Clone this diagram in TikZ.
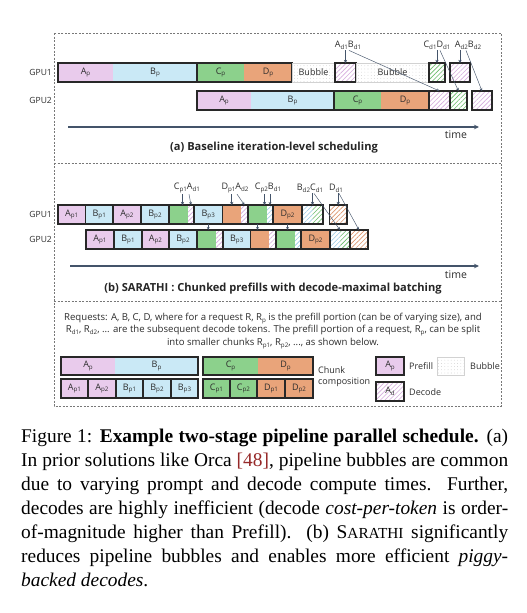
\documentclass[tikz,border=0pt]{standalone}
\usepackage{fontspec}
\setmainfont{Liberation Serif}
\setsansfont{Open Sans}
\usetikzlibrary{arrows.meta,patterns.meta}
\definecolor{cpink}{RGB}{233,203,236}
\definecolor{cblue}{RGB}{202,233,246}
\definecolor{cgreen}{RGB}{140,209,140}
\definecolor{corange}{RGB}{233,164,122}
\definecolor{hpink}{RGB}{214,172,222}
\definecolor{hblue}{RGB}{150,200,228}
\definecolor{hgreen}{RGB}{105,188,105}
\definecolor{horange}{RGB}{222,150,110}
\definecolor{arrcol}{RGB}{68,84,106}
\definecolor{bordcol}{RGB}{40,40,40}
\definecolor{txtcol}{RGB}{45,45,45}
\definecolor{framecol}{RGB}{120,120,120}
\definecolor{citered}{RGB}{150,40,40}
\newcommand\sbs[1]{\raisebox{-0.4ex}{\fontsize{6.2}{7}\selectfont #1}}
\newcommand\seg[7]{\node[segnode,#6,minimum width={(#3)-(#2)},minimum height={(#5)-(#4)},anchor=north west] (#1) at (#2,#4) {#7};}
\newcommand\frm[5]{\node[frmnode,minimum width={(#3)-(#2)},minimum height={(#5)-(#4)},anchor=north west] (#1) at (#2,#4) {};}
\tikzset{
 segnode/.style={rectangle,inner sep=0pt,outer sep=0pt,draw=none,font=\sffamily\fontsize{9}{11}\selectfont,text=txtcol},
 frmnode/.style={rectangle,inner sep=0pt,outer sep=0pt,draw=bordcol,line width=1.1pt},
 pk/.style={fill=cpink}, bl/.style={fill=cblue}, gr/.style={fill=cgreen}, orr/.style={fill=corange},
 hp/.style={pattern={Lines[angle=45,distance=3.2pt,line width=0.6pt]},pattern color=hpink},
 hb/.style={pattern={Lines[angle=45,distance=3.2pt,line width=0.6pt]},pattern color=hblue},
 hg/.style={pattern={Lines[angle=45,distance=3.2pt,line width=0.6pt]},pattern color=hgreen},
 ho/.style={pattern={Lines[angle=45,distance=3.2pt,line width=0.6pt]},pattern color=horange},
 bub/.style={pattern={Dots[distance=3.2pt,radius=0.3pt]},pattern color=gray!70,draw=gray!35,line width=0.4pt},
 lab/.style={font=\sffamily\fontsize{9}{11}\selectfont,text=txtcol,inner sep=1pt},
 gpu/.style={font=\sffamily\fontsize{8.5}{10}\selectfont,text=txtcol,inner sep=0pt,anchor=east},
 arr/.style={draw=arrcol,line width=0.9pt,-{Stealth[length=3.2pt,width=3.4pt]}},
 arrt/.style={draw=arrcol,line width=0.45pt,-{Stealth[length=3pt,width=2.8pt]}},
 taxis/.style={draw=arrcol,line width=1.1pt,-{Stealth[length=5pt,width=4.5pt]}},
 dframe/.style={draw=framecol,line width=0.6pt,dash pattern=on 2pt off 1.5pt},
 ttl/.style={font=\sffamily\bfseries\fontsize{11.1}{13}\selectfont,text=black!85,inner sep=0pt},
 tm/.style={font=\sffamily\fontsize{10.5}{12}\selectfont,text=txtcol,inner sep=0pt},
 ctext/.style={font=\sffamily\fontsize{9.6}{12.5}\selectfont,text=txtcol,align=center,inner sep=0pt},
 capl/.style={font=\fontsize{19.4}{24}\selectfont,anchor=base west,inner sep=0pt},
}
\begin{document}
\begin{tikzpicture}[x=1pt,y=-1pt]
\useasboundingbox (0,0) rectangle (527,613);
\fill[white] (0,0) rectangle (527,613);
% frame
\draw[dframe] (54,33) rectangle (501,406);
\draw[dframe] (54,163) -- (501,163);
\draw[dframe] (54,301) -- (501,301);
% ---------- panel a
\node[gpu] (ga1) at (52,72.5) {GPU1};
\node[gpu] (ga2) at (52,100.5) {GPU2};
\seg{aA1}{58}{113}{63}{82}{pk}{A\sbs{p}}
\seg{aB1}{113}{197}{63}{82}{bl}{B\sbs{p}}
\frm{aAB1f}{58}{197}{63}{82}
\seg{aC1}{197}{244}{63}{82}{gr}{C\sbs{p}}
\seg{aD1}{244}{292}{63}{82}{orr}{D\sbs{p}}
\frm{aCD1f}{197}{292}{63}{82}
\seg{aBub1}{292}{335}{63}{82}{bub}{Bubble}
\seg{aX1}{335}{356}{63}{82}{hp}{}
\frm{aX1f}{335}{356}{63}{82}
\seg{aBub2}{356}{429}{63}{82}{bub}{Bubble}
\seg{aY1}{429}{445}{63}{82}{hg}{}
\frm{aY1f}{429}{445}{63}{82}
\seg{aZ1}{450}{470}{63}{82}{hp}{}
\frm{aZ1f}{450}{470}{63}{82}
\seg{aA2}{197}{251}{91}{110}{pk}{A\sbs{p}}
\seg{aB2}{251}{334}{91}{110}{bl}{B\sbs{p}}
\frm{aAB2f}{197}{334}{91}{110}
\seg{aC2}{334}{381}{91}{110}{gr}{C\sbs{p}}
\seg{aD2}{381}{429}{91}{110}{orr}{D\sbs{p}}
\frm{aCD2f}{334}{429}{91}{110}
\seg{aX2}{429}{450}{91}{110}{hp}{}
\frm{aX2f}{429}{450}{91}{110}
\seg{aY2}{450}{467}{91}{110}{hg}{}
\frm{aY2f}{450}{467}{91}{110}
\seg{aZ2}{472}{492}{91}{110}{hp}{}
\frm{aZ2f}{472}{492}{91}{110}
\node[lab] (lX) at (348,45) {A\sbs{d1}B\sbs{d1}};
\node[lab] (lY) at (437,45) {C\sbs{d1}D\sbs{d1}};
\node[lab] (lZ) at (468,45) {A\sbs{d2}B\sbs{d2}};
\draw[arr] (lX.south -| aX1f.north) -- (aX1f.north);
\draw[arrt] ([xshift=1pt]lX.south) -- (aX2f.north);
\draw[arr] (lY.south -| aY1f.north) -- (aY1f.north);
\draw[arrt] ([xshift=3pt]lY.south) -- (aY2f.north);
\draw[arr] (lZ.south -| aZ1f.north) -- (aZ1f.north);
\draw[arrt] ([xshift=-2pt]lZ.south) -- (aZ2f.north);
\coordinate (ta0) at (68,127);
\coordinate (ta1) at (479,127);
\draw[taxis] (ta0) -- (ta1);
\node[tm] (tma) at (456,135) {time};
\node[ttl] (ttla) at (274,148) {(a) Baseline iteration-level scheduling};
% ---------- panel b
\node[gpu] (gb1) at (52,214.5) {GPU1};
\node[gpu] (gb2) at (52,239.5) {GPU2};
% GPU1
\seg{b1A1}{58}{85.5}{205}{224}{pk}{A\sbs{p1}}
\frm{b1A1f}{58}{85.5}{205}{224}
\seg{b1B1}{85.5}{113}{205}{224}{bl}{B\sbs{p1}}
\frm{b1B1f}{85.5}{113}{205}{224}
\seg{b1A2}{113}{141}{205}{224}{pk}{A\sbs{p2}}
\frm{b1A2f}{113}{141}{205}{224}
\seg{b1B2}{141}{169}{205}{224}{bl}{B\sbs{p2}}
\frm{b1B2f}{141}{169}{205}{224}
\seg{b1C1}{169}{188}{205}{224}{gr}{}
\seg{b1C1h}{188}{194}{205}{224}{hp}{}
\frm{b1C1f}{169}{194}{205}{224}
\seg{b1B3}{194}{222.5}{205}{224}{bl}{B\sbs{p3}}
\frm{b1B3f}{194}{222.5}{205}{224}
\seg{b1D1}{222.5}{241}{205}{224}{orr}{}
\seg{b1D1h}{241}{248}{205}{224}{hp}{}
\frm{b1D1f}{222.5}{248}{205}{224}
\seg{b1C2}{248}{267}{205}{224}{gr}{}
\seg{b1C2h}{267}{273}{205}{224}{hb}{}
\frm{b1C2f}{248}{273}{205}{224}
\seg{b1D2}{273}{302}{205}{224}{orr}{D\sbs{p2}}
\frm{b1D2f}{273}{302}{205}{224}
\seg{b1BC}{302}{312.5}{205}{224}{hb}{}
\seg{b1BCg}{312.5}{323}{205}{224}{hg}{}
\frm{b1BCf}{302}{323}{205}{224}
\seg{b1Dd}{329.5}{347}{205}{224}{ho}{}
\frm{b1Ddf}{329.5}{347}{205}{224}
% GPU2
\seg{b2A1}{86}{114}{230}{249}{pk}{A\sbs{p1}}
\frm{b2A1f}{86}{114}{230}{249}
\seg{b2B1}{114}{142}{230}{249}{bl}{B\sbs{p1}}
\frm{b2B1f}{114}{142}{230}{249}
\seg{b2A2}{142}{169}{230}{249}{pk}{A\sbs{p2}}
\frm{b2A2f}{142}{169}{230}{249}
\seg{b2B2}{169}{197}{230}{249}{bl}{B\sbs{p2}}
\frm{b2B2f}{169}{197}{230}{249}
\seg{b2C1}{197}{216}{230}{249}{gr}{}
\seg{b2C1h}{216}{223}{230}{249}{hp}{}
\frm{b2C1f}{197}{223}{230}{249}
\seg{b2B3}{223}{250.5}{230}{249}{bl}{B\sbs{p3}}
\frm{b2B3f}{223}{250.5}{230}{249}
\seg{b2D1}{250.5}{269}{230}{249}{orr}{}
\seg{b2D1h}{269}{276}{230}{249}{hp}{}
\frm{b2D1f}{250.5}{276}{230}{249}
\seg{b2C2}{276}{295}{230}{249}{gr}{}
\seg{b2C2h}{295}{301}{230}{249}{hb}{}
\frm{b2C2f}{276}{301}{230}{249}
\seg{b2D2}{301}{330}{230}{249}{orr}{D\sbs{p2}}
\frm{b2D2f}{301}{330}{230}{249}
\seg{b2BC}{330}{340}{230}{249}{hb}{}
\seg{b2BCg}{340}{350}{230}{249}{hg}{}
\frm{b2BCf}{330}{350}{230}{249}
\seg{b2Dd}{350}{368}{230}{249}{ho}{}
\frm{b2Ddf}{350}{368}{230}{249}
% labels b
\node[lab] (lb1) at (187,188) {C\sbs{p1}A\sbs{d1}};
\node[lab] (lb2) at (235,188) {D\sbs{p1}A\sbs{d2}};
\node[lab] (lb3) at (268,188) {C\sbs{p2}B\sbs{d1}};
\node[lab] (lb4) at (310,188) {B\sbs{d2}C\sbs{d1}};
\node[lab] (lb5) at (336,188) {D\sbs{d1}};
\draw[arr] ([xshift=4pt]b1C1.north |- lb1.south) -- ([xshift=4pt]b1C1.north);
\draw[arrt] ([xshift=2pt]lb1.south) -- (b1C1h.north);
\draw[arr] (b1D1.north |- lb2.south) -- (b1D1.north);
\draw[arrt] ([xshift=2pt]lb2.south) -- (b1D1h.north);
\draw[arr] ([xshift=7pt]b1C2.north |- lb3.south) -- ([xshift=7pt]b1C2.north);
\draw[arrt] ([xshift=2pt]lb3.south) -- (b1C2h.north);
\draw[arr] (b1BCf.north |- lb4.south) -- (b1BCf.north);
\draw[arrt] ([xshift=4pt]lb4.south) -- (b2BCf.north);
\draw[arr] (b1Ddf.north |- lb5.south) -- (b1Ddf.north);
\draw[arrt] ([xshift=3pt]lb5.south) -- (b2Ddf.north);
\draw[arrt] (b1B3f.south) -- (b1B3f.south |- b2C1f.north);
\draw[arrt] ([xshift=-3pt]b1C2f.south) -- ([xshift=-3pt]b1C2f.south |- b2D1f.north);
\draw[arrt] (b1D2f.south) -- (b1D2f.south |- b2C2f.north);
\coordinate (tb0) at (70,266);
\coordinate (tb1) at (479,266);
\draw[taxis] (tb0) -- (tb1);
\node[tm] (tmb) at (456,275) {time};
\node[ttl] (ttlb) at (273,289) {(b) SARATHI : Chunked prefills with decode-maximal batching};
% ---------- panel c
\node[ctext] (req) at (273,331) {Requests: A, B, C, D, where for a request R, R\sbs{p} is the prefill portion (can be of varying size), and\\ R\sbs{d1}, R\sbs{d2}, ... are the subsequent decode tokens. The prefill portion of a request, R\sbs{p}, can be split\\ into smaller chunks R\sbs{p1}, R\sbs{p2}, ..., as shown below.};
\seg{cAp}{61}{115}{357}{375}{pk}{A\sbs{p}}
\seg{cBp}{115}{198}{357}{375}{bl}{B\sbs{p}}
\frm{cABf}{61}{198}{357}{375}
\seg{cCp}{203}{258}{357}{375}{gr}{C\sbs{p}}
\seg{cDp}{258}{313}{357}{375}{orr}{D\sbs{p}}
\frm{cCDf}{203}{313}{357}{375}
\seg{cA1}{61}{88}{379}{398}{pk}{A\sbs{p1}}
\frm{cA1f}{61}{88}{379}{398}
\seg{cA2}{88}{116}{379}{398}{pk}{A\sbs{p2}}
\frm{cA2f}{88}{116}{379}{398}
\seg{cB1}{116}{143}{379}{398}{bl}{B\sbs{p1}}
\frm{cB1f}{116}{143}{379}{398}
\seg{cB2}{143}{171}{379}{398}{bl}{B\sbs{p2}}
\frm{cB2f}{143}{171}{379}{398}
\seg{cB3}{171}{198}{379}{398}{bl}{B\sbs{p3}}
\frm{cB3f}{171}{198}{379}{398}
\seg{cC1}{203}{230}{379}{398}{gr}{C\sbs{p1}}
\frm{cC1f}{203}{230}{379}{398}
\seg{cC2}{230}{257}{379}{398}{gr}{C\sbs{p2}}
\frm{cC2f}{230}{257}{379}{398}
\seg{cD1}{257}{285}{379}{398}{orr}{D\sbs{p1}}
\frm{cD1f}{257}{285}{379}{398}
\seg{cD2}{285}{313}{379}{398}{orr}{D\sbs{p2}}
\frm{cD2f}{285}{313}{379}{398}
\node[lab,anchor=west,align=left,inner sep=0pt] (chk) at (318,377) {Chunk\\composition};
\seg{lgP}{376}{404}{357}{375}{pk}{A\sbs{p}}
\frm{lgPf}{376}{404}{357}{375}
\node[lab,anchor=west,inner sep=0pt] (lgPt) at (409,366) {Prefill};
\seg{lgB}{437}{464}{357}{375}{bub}{}
\node[lab,anchor=west,inner sep=0pt] (lgBt) at (470,366) {Bubble};
\seg{lgD}{376}{404}{382}{401}{hp}{A\sbs{d}}
\frm{lgDf}{376}{404}{382}{401}
\node[lab,anchor=west,inner sep=0pt] (lgDt) at (409,392) {Decode};
% ---------- caption
\node[capl] (cap1) at (21,442) {\makebox[487pt][s]{Figure 1: \textbf{Example two-stage pipeline parallel schedule.} (a)}};
\node[capl] (cap2) at (21,466) {\makebox[487pt][s]{In prior solutions like Orca {\color{citered}[48]}, pipeline bubbles are common}};
\node[capl] (cap3) at (21,490) {\makebox[487pt][s]{due to varying prompt and decode compute times. Further,}};
\node[capl] (cap4) at (21,514) {\makebox[487pt][s]{decodes are highly inefficient (decode \textit{cost-per-token} is order-}};
\node[capl] (cap5) at (21,538) {\makebox[487pt][s]{of-magnitude higher than Prefill). (b) S{\fontsize{15.3}{24}\selectfont ARATHI} significantly}};
\node[capl] (cap6) at (21,562) {\makebox[487pt][s]{reduces pipeline bubbles and enables more efficient \textit{piggy-}}};
\node[capl] (cap7) at (21,586) {\textit{backed decodes}.};
\end{tikzpicture}
\end{document}
